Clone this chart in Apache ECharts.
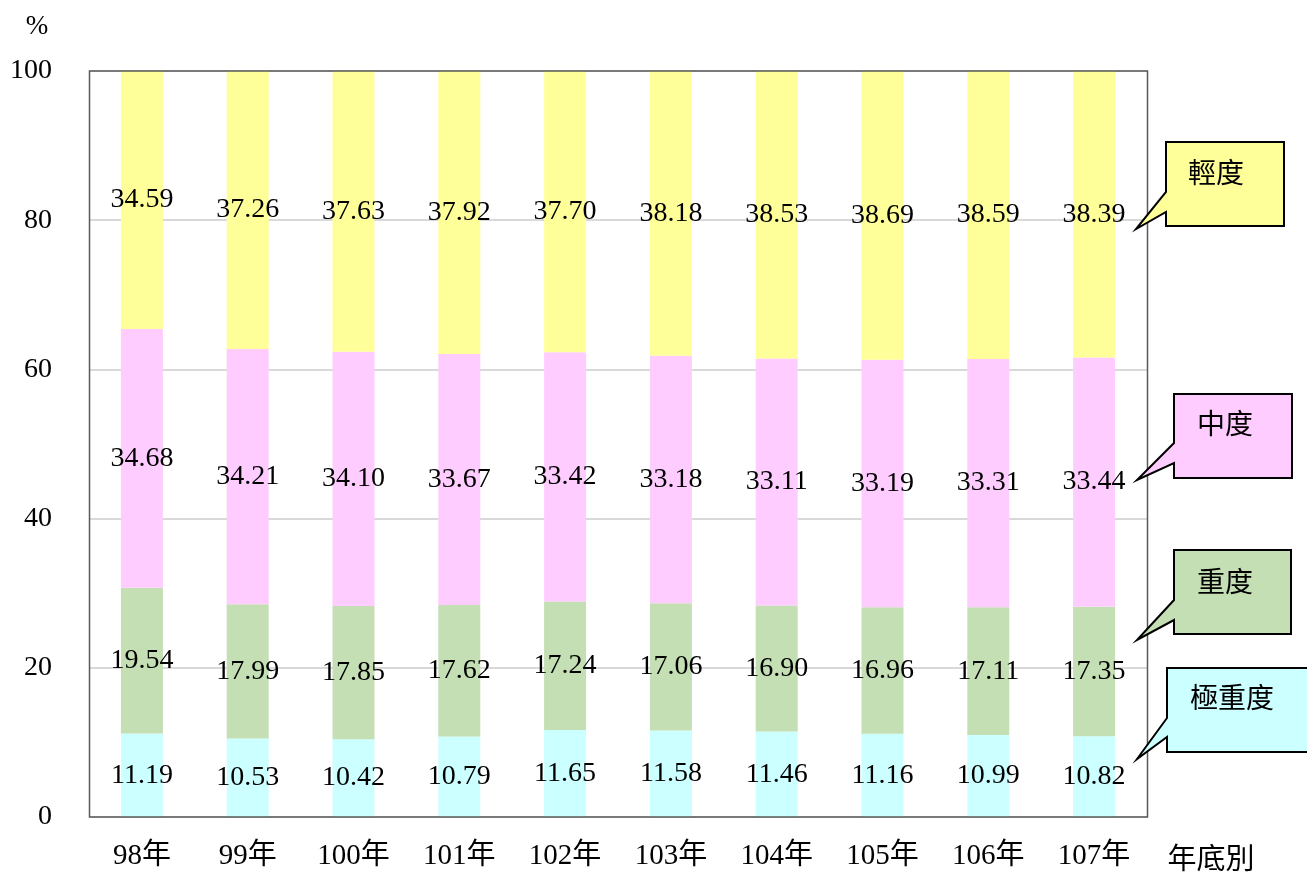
<!DOCTYPE html>
<html>
<head>
<meta charset="utf-8">
<script src="https://cdn.jsdelivr.net/npm/echarts@6/dist/echarts.min.js"></script>
<style>
html,body{margin:0;padding:0;background:#fff;}
#c{width:1307px;height:872px;}
</style>
</head>
<body>
<div id="c"></div>
<script>
const categories = ['98年','99年','100年','101年','102年','103年','104年','105年','106年','107年'];
const seriesNames = ['極重度','重度','中度','輕度'];
const extremeSevere = [11.19, 10.53, 10.42, 10.79, 11.65, 11.58, 11.46, 11.16, 10.99, 10.82];
const severe = [19.54, 17.99, 17.85, 17.62, 17.24, 17.06, 16.90, 16.96, 17.11, 17.35];
const moderate = [34.68, 34.21, 34.10, 33.67, 33.42, 33.18, 33.11, 33.19, 33.31, 33.44];
const mild = [34.59, 37.26, 37.63, 37.92, 37.70, 38.18, 38.53, 38.69, 38.59, 38.39];
const yTicks = [0, 20, 40, 60, 80, 100];

const colors = ['#CCFFFF', '#C4DFB4', '#FFCCFF', '#FFFF99'];
const seriesData = [extremeSevere, severe, moderate, mild];
const numFont = "'Liberation Serif', 'DejaVu Serif', serif";
const cjkFont = "'Liberation Serif', 'Noto Sans CJK TC', serif";

const chart = echarts.init(document.getElementById('c'));

function callout(pts, fill, text, tx, ty) {
  return [
    { type: 'polygon', shape: { points: pts }, style: { fill: fill, stroke: '#000', lineWidth: 2 }, z: 10 },
    { type: 'text', x: tx, y: ty, style: { text: text, font: "28px 'Noto Sans CJK TC'", fill: '#000', textAlign: 'center', textVerticalAlign: 'middle' }, z: 11 }
  ];
}

const graphics = [].concat(
  [{ type: 'rect', shape: { x: 89.5, y: 71, width: 1058, height: 746 }, style: { fill: 'none', stroke: '#595959', lineWidth: 1.5 }, z: 9, silent: true }],
  callout([[1166,142],[1284,142],[1284,226],[1166,226],[1166,212],[1136,229],[1166,192]], colors[3], seriesNames[3], 1216, 172),
  callout([[1174,394],[1292,394],[1292,478],[1174,478],[1174,463],[1137,480],[1174,443]], colors[2], seriesNames[2], 1225, 423),
  callout([[1174,550],[1291,550],[1291,634],[1174,634],[1174,620],[1137,640],[1174,600]], colors[1], seriesNames[1], 1225, 581),
  callout([[1167,668],[1310,668],[1310,752],[1167,752],[1167,737],[1137,759],[1167,718]], colors[0], seriesNames[0], 1232, 697),
  [
    { type: 'text', x: 37, y: 27, style: { text: '%', font: "27px 'Liberation Serif'", fill: '#000', textAlign: 'center', textVerticalAlign: 'middle' } },
    { type: 'text', x: 1211, y: 858, style: { text: '年底別', font: "29px 'Noto Sans CJK TC'", fill: '#000', textAlign: 'center', textVerticalAlign: 'middle' } }
  ]
);

const option = {
  animation: false,
  backgroundColor: '#fff',
  grid: { left: 89, right: 160, top: 71, bottom: 55, show: false },
  xAxis: {
    type: 'category',
    data: categories,
    axisLine: { show: false },
    axisTick: { show: false },
    axisLabel: { margin: 25, fontSize: 29, color: '#000', fontFamily: cjkFont }
  },
  yAxis: {
    type: 'value',
    min: yTicks[0],
    max: yTicks[yTicks.length - 1],
    interval: 20,
    axisLine: { show: false },
    axisTick: { show: false },
    axisLabel: { margin: 37, fontSize: 28, color: '#000', fontFamily: numFont },
    splitLine: { show: true, lineStyle: { color: '#d9d9d9', width: 2 } }
  },
  series: seriesNames.map((name, i) => ({
    name: name,
    type: 'bar',
    stack: 'total',
    barWidth: 42,
    data: seriesData[i],
    itemStyle: { color: colors[i] },
    label: {
      show: true,
      position: 'inside',
      color: '#000',
      fontSize: 28,
      fontFamily: numFont,
      formatter: p => p.value.toFixed(2)
    }
  })),
  graphic: graphics
};
chart.setOption(option);
</script>
</body>
</html>
